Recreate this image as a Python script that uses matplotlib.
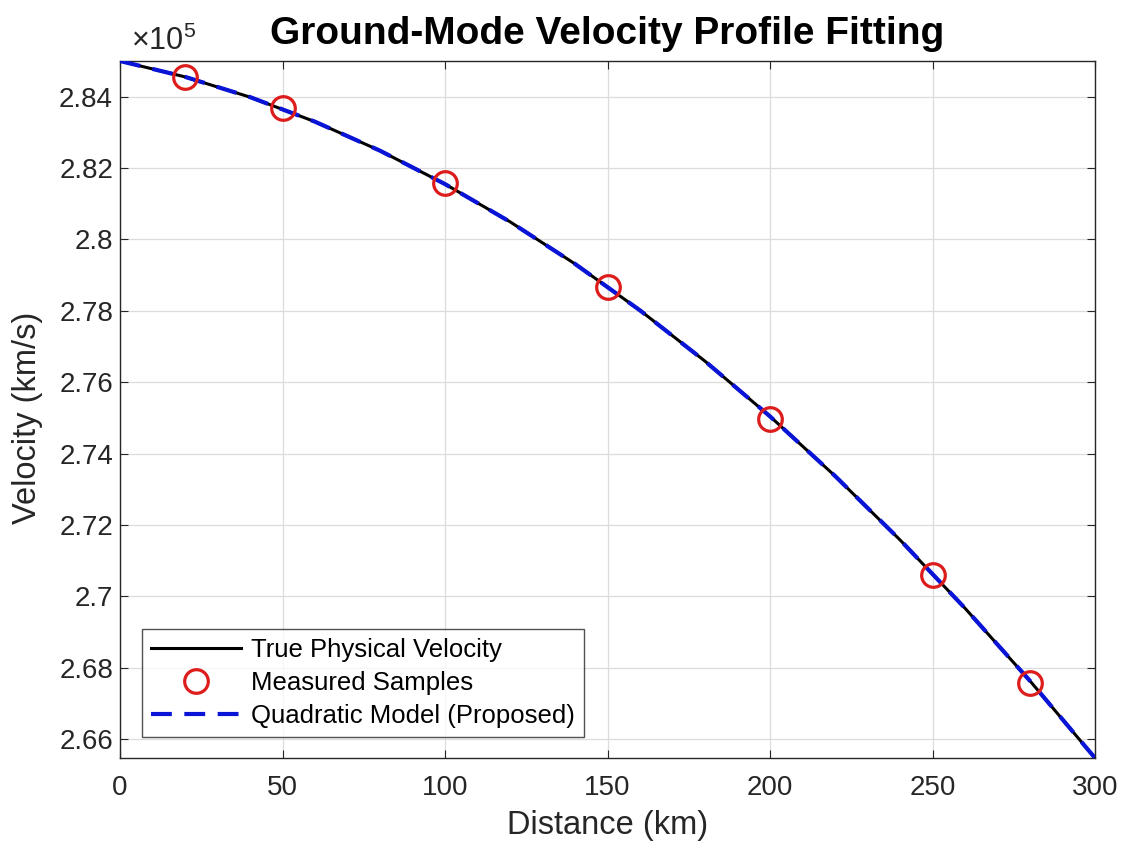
import numpy as np
import matplotlib.pyplot as plt
from matplotlib.ticker import FuncFormatter

plt.rcParams['font.family'] = ['Liberation Sans', 'DejaVu Sans']
plt.rcParams['mathtext.default'] = 'regular'

# curve (km, km/s)
dist_km = [0, 20, 40, 60, 80, 100, 120, 140, 160, 180, 200, 220, 240, 260, 280, 300]
true_vel = [285000, 284555, 283988, 283299, 282487, 281552, 280495, 279315,
            278013, 276589, 275042, 273373, 271581, 269666, 267629, 265469]
model_vel = [285000, 284556, 283989, 283299, 282487, 281551, 280494, 279314,
             278012, 276588, 275042, 273373, 271582, 269667, 267630, 265470]

# measured samples
sample_km = [20, 50, 100, 150, 200, 250, 280]
sample_vel = [284550, 283680, 281570, 278680, 274970, 270590, 267580]

x_ticks = [0, 50, 100, 150, 200, 250, 300]
y_ticks = [266000, 268000, 270000, 272000, 274000, 276000, 278000, 280000, 282000, 284000]

fig = plt.figure(figsize=(11.24, 8.46), dpi=100)
ax = fig.add_axes([120 / 1124, 1 - 758 / 846, 975 / 1124, 697 / 846])

ax.plot(dist_km, true_vel, 'k-', lw=2.2, label='True Physical Velocity', zorder=3)
ax.plot(sample_km, sample_vel, 'o', ms=17, mfc='none', mec='#dd1c1c', mew=2.3,
        label='Measured Samples', zorder=5)
ax.plot(dist_km, model_vel, '--', color='#0a14d6', lw=3, dashes=(5, 3),
        label='Quadratic Model (Proposed)', zorder=4)

ax.set_xlim(0, 300)
ax.set_ylim(265469, 285000)
ax.set_xticks(x_ticks)
ax.set_yticks(y_ticks)
ax.yaxis.set_major_formatter(FuncFormatter(lambda v, p: f"{v / 1e5:g}"))
ax.tick_params(direction='in', top=True, right=True, labelsize=20,
               colors='#262626', length=6, width=0.8)
ax.tick_params(axis='x', pad=12)
ax.tick_params(axis='y', pad=5)
for s in ax.spines.values():
    s.set_color('#262626')
    s.set_linewidth(1.0)
ax.grid(True, color='#dcdcdc', lw=0.9)
ax.set_axisbelow(True)

ax.text(0.011, 1.006, r'$\times10^5$', transform=ax.transAxes, fontsize=22,
        color='#262626', ha='left', va='bottom')

ax.set_xlabel('Distance (km)', fontsize=23.5, color='#262626', labelpad=7)
ax.set_ylabel('Velocity (km/s)', fontsize=23.5, color='#262626')
ax.yaxis.set_label_coords(-0.079, 0.488)
ax.set_title('Ground-Mode Velocity Profile Fitting', fontsize=28, fontweight='bold',
             pad=12.5)

leg = ax.legend(loc='lower left', bbox_to_anchor=(0.0226, 0.030), borderaxespad=0,
                fontsize=18.5, handlelength=3.5, frameon=True, fancybox=False,
                edgecolor='#262626', borderpad=0.35, labelspacing=0.35,
                handletextpad=0.4)
leg.get_frame().set_linewidth(1.0)

fig.savefig('out.png', dpi=100)
